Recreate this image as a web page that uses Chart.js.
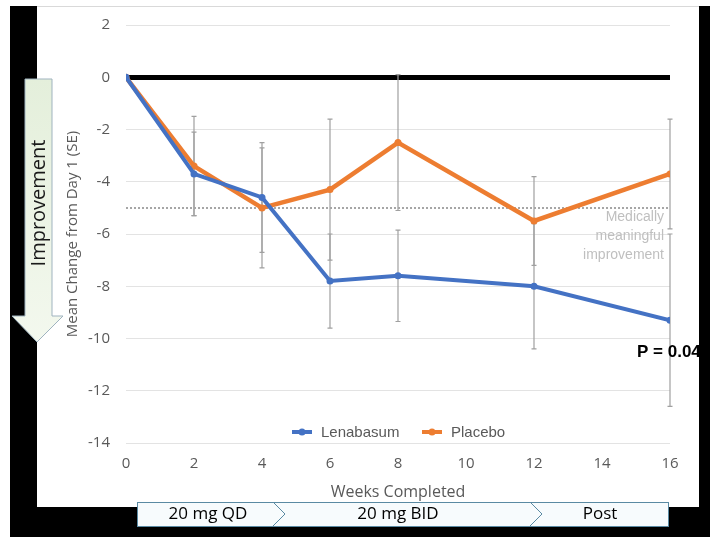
<!DOCTYPE html>
<html lang="en">
<head>
<meta charset="UTF-8">
<title>Mean Change from Day 1</title>
<style>
  body {
    margin: 0;
    background: #ffffff;
  }
  #chart-container {
    position: relative;
    width: 710px;
    height: 537px;
  }
</style>
<script src="https://cdn.jsdelivr.net/npm/chart.js@4.4.1/dist/chart.umd.min.js"></script>
</head>
<body>
<div id="chart-container">
  <canvas id="trialChart"></canvas>
</div>

<script>
// weeks completed and mean change from day 1 (with SE)
const weeks = [0, 2, 4, 6, 8, 12, 16];
const lenabasum = [0, -3.7, -4.6, -7.8, -7.6, -8.0, -9.3];
const lenabasumSE = [0, 1.6, 2.1, 1.8, 1.75, 2.4, 3.3];
const placebo = [0, -3.4, -5.0, -4.3, -2.5, -5.5, -3.7];
const placeboSE = [0, 1.9, 2.3, 2.7, 2.6, 1.7, 2.1];

// medically meaningful improvement threshold
const thresholdWeeks = [0, 16];
const thresholdValue = -5;

const seriesNames = ['Lenabasum', 'Placebo'];
const thresholdText = ['Medically', 'meaningful', 'improvement'];
const pValueText = 'P = 0.04';
const phases = [
  { label: '20 mg QD', from: 137, to: 279 },
  { label: '20 mg BID', from: 279, to: 536 },
  { label: 'Post', from: 536, to: 668 }
];

const BLUE = '#4472c4';
const ORANGE = '#ed7d31';

function toPoints(xs, ys) {
  return xs.map((x, i) => ({ x: x, y: ys[i] }));
}

// error bars, drawn under the lines
const errorBars = {
  id: 'errorBars',
  beforeDatasetsDraw(chart) {
    const ctx = chart.ctx;
    const xs = chart.scales.x, ys = chart.scales.y;
    ctx.save();
    ctx.strokeStyle = '#a0a0a0';
    ctx.lineWidth = 1.2;
    chart.data.datasets.forEach(ds => {
      if (!ds.errors) return;
      ds.data.forEach((p, i) => {
        const e = ds.errors[i];
        if (!e) return;
        const px = xs.getPixelForValue(p.x);
        const top = ys.getPixelForValue(p.y + e);
        const bot = ys.getPixelForValue(p.y - e);
        ctx.beginPath();
        ctx.moveTo(px, top); ctx.lineTo(px, bot);
        ctx.moveTo(px - 2.5, top); ctx.lineTo(px + 2.5, top);
        ctx.moveTo(px - 2.5, bot); ctx.lineTo(px + 2.5, bot);
        ctx.stroke();
      });
    });
    ctx.restore();
  }
};

// labels, legend, frame, arrow and dose phases
const decorations = {
  id: 'decorations',
  afterDraw(chart) {
    const ctx = chart.ctx;
    ctx.save();

    // threshold note
    ctx.fillStyle = '#bfbfbf';
    ctx.font = '14px "Liberation Sans", Arial, sans-serif';
    ctx.textAlign = 'right';
    ctx.textBaseline = 'middle';
    thresholdText.forEach((t, i) => ctx.fillText(t, 664, 217 + i * 19));

    // p value (cut by the frame on the right, as in the slide)
    ctx.fillStyle = '#000';
    ctx.font = 'bold 17px "Liberation Sans", Arial, sans-serif';
    ctx.textAlign = 'left';
    ctx.textBaseline = 'alphabetic';
    ctx.fillText(pValueText, 637, 357);

    // legend inside plot
    const legendY = 432;
    const items = [
      { name: seriesNames[0], color: BLUE, x: 292 },
      { name: seriesNames[1], color: ORANGE, x: 422 }
    ];
    ctx.font = '15px "Liberation Sans", Arial, sans-serif';
    ctx.textBaseline = 'middle';
    items.forEach(it => {
      ctx.strokeStyle = it.color;
      ctx.lineWidth = 4;
      ctx.beginPath();
      ctx.moveTo(it.x, legendY); ctx.lineTo(it.x + 20, legendY);
      ctx.stroke();
      ctx.fillStyle = it.color;
      ctx.beginPath();
      ctx.arc(it.x + 10, legendY, 3.5, 0, Math.PI * 2);
      ctx.fill();
      ctx.fillStyle = '#595959';
      ctx.fillText(it.name, it.x + 29, legendY + 1);
    });

    // black frame around the slide picture
    ctx.fillStyle = '#000';
    ctx.fillRect(10, 6, 27, 531);
    ctx.fillRect(699, 6, 11, 531);
    ctx.fillRect(10, 507, 700, 30);
    ctx.strokeStyle = '#d9d9d9';
    ctx.lineWidth = 1;
    ctx.beginPath();
    ctx.moveTo(37, 6.5); ctx.lineTo(699, 6.5);
    ctx.stroke();

    // improvement arrow
    const grad = ctx.createLinearGradient(0, 79, 0, 342);
    grad.addColorStop(0, '#e4efdb');
    grad.addColorStop(1, '#f3f8ee');
    ctx.fillStyle = grad;
    ctx.strokeStyle = '#9fb3bf';
    ctx.lineWidth = 1;
    ctx.beginPath();
    ctx.moveTo(25, 79);
    ctx.lineTo(52, 79);
    ctx.lineTo(52, 316);
    ctx.lineTo(63, 316);
    ctx.lineTo(37, 342);
    ctx.lineTo(12, 316);
    ctx.lineTo(25, 316);
    ctx.closePath();
    ctx.fill();
    ctx.stroke();
    ctx.save();
    ctx.translate(39, 203);
    ctx.rotate(-Math.PI / 2);
    ctx.fillStyle = '#1a1a1a';
    ctx.font = '20px "Open Sans", sans-serif';
    ctx.textAlign = 'center';
    ctx.textBaseline = 'middle';
    ctx.fillText('Improvement', 0, 0);
    ctx.restore();

    // dose phases
    const top = 502, bot = 526, mid = 514, tip = 12;
    ctx.fillStyle = '#f7fbfd';
    ctx.fillRect(137, top, 668 - 137, bot - top);
    ctx.strokeStyle = '#5a8aa3';
    ctx.lineWidth = 1;
    ctx.strokeRect(137.5, top + 0.5, 668 - 137, bot - top);
    ctx.fillStyle = '#000';
    ctx.font = '17px "Open Sans", sans-serif';
    ctx.textAlign = 'center';
    ctx.textBaseline = 'middle';
    phases.forEach((ph, i) => {
      if (i > 0) {
        const cx = ph.from - 6;
        ctx.beginPath();
        ctx.moveTo(cx, top); ctx.lineTo(cx + tip, mid); ctx.lineTo(cx, bot);
        ctx.stroke();
      }
    });
    ctx.fillText(phases[0].label, 208, mid);
    ctx.fillText(phases[1].label, 398, mid);
    ctx.fillText(phases[2].label, 600, mid);

    ctx.restore();
  }
};

const ctx = document.getElementById('trialChart').getContext('2d');
const trialChart = new Chart(ctx, {
  type: 'line',
  data: {
    datasets: [
      {
        label: seriesNames[0],
        data: toPoints(weeks, lenabasum),
        errors: lenabasumSE,
        borderColor: BLUE,
        backgroundColor: BLUE,
        borderWidth: 4,
        pointRadius: 3.5,
        pointBorderWidth: 0,
        tension: 0
      },
      {
        label: seriesNames[1],
        data: toPoints(weeks, placebo),
        errors: placeboSE,
        borderColor: ORANGE,
        backgroundColor: ORANGE,
        borderWidth: 4.5,
        pointRadius: 3.5,
        pointBorderWidth: 0,
        tension: 0
      },
      {
        label: 'threshold',
        data: toPoints(thresholdWeeks, thresholdWeeks.map(() => thresholdValue)),
        borderColor: '#a6a6a6',
        borderWidth: 2,
        borderDash: [2, 2],
        pointRadius: 0,
        order: 5
      }
    ]
  },
  options: {
    responsive: true,
    maintainAspectRatio: false,
    animation: false,
    layout: {
      padding: { left: 0, right: 40, top: 19, bottom: 34 }
    },
    plugins: {
      legend: { display: false },
      tooltip: { enabled: false }
    },
    scales: {
      x: {
        type: 'linear',
        min: 0,
        max: 16,
        grid: { display: false, drawTicks: false },
        border: { display: false },
        ticks: {
          stepSize: 2,
          padding: 12,
          color: '#595959',
          font: { family: 'Open Sans', size: 15 }
        },
        title: {
          display: true,
          text: 'Weeks Completed',
          color: '#595959',
          font: { family: 'Open Sans', size: 16 },
          padding: { top: 0, bottom: 1 }
        },
        afterFit(scale) { scale.height = 60; }
      },
      y: {
        min: -14,
        max: 2,
        grid: {
          drawTicks: false,
          color: c => c.tick && c.tick.value === 0 ? '#000000' : '#e3e3e3',
          lineWidth: c => c.tick && c.tick.value === 0 ? 5 : 1
        },
        border: { display: false },
        ticks: {
          stepSize: 2,
          padding: 16,
          color: '#595959',
          font: { family: 'Open Sans', size: 15 }
        },
        title: {
          display: true,
          text: 'Mean Change from Day 1 (SE)',
          color: '#595959',
          font: { family: 'Open Sans', size: 15 },
          padding: { top: 64, bottom: 0 }
        },
        afterFit(scale) { scale.width = 126; }
      }
    }
  },
  plugins: [errorBars, decorations]
});
</script>
</body>
</html>
